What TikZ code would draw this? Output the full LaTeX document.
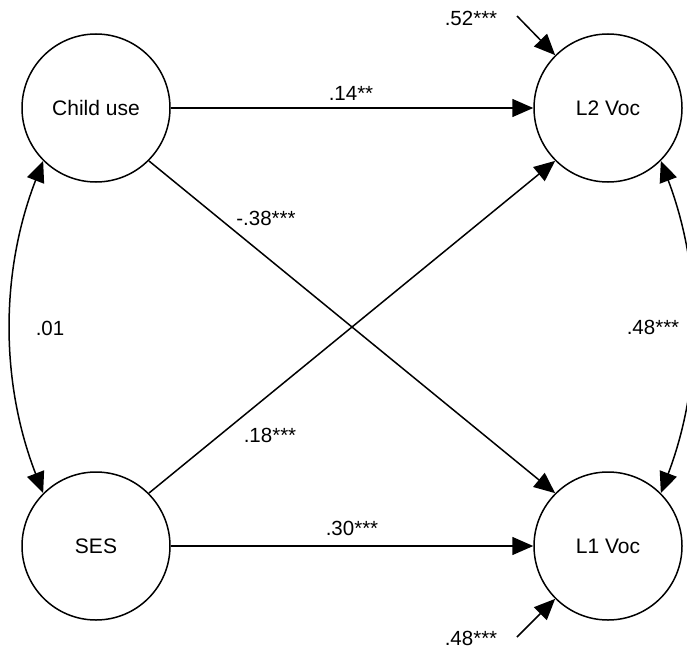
\documentclass[tikz,border=0pt]{standalone}
\usepackage{fontspec}
\setmainfont{Liberation Sans}
\usetikzlibrary{arrows.meta}
\begin{document}
\begin{tikzpicture}[x=1pt,y=-1pt,
  latent/.style={draw,circle,line width=1.5pt,minimum size=148pt,inner sep=0pt,font=\fontsize{21}{23}\selectfont},
  lbl/.style={font=\fontsize{20.5}{22}\selectfont,inner sep=0pt},
  arr/.style={line width=1.5pt,-{Triangle[length=21pt,width=18pt]}},
  dbl/.style={line width=1.5pt,{Triangle[length=21pt,width=18pt]}-{Triangle[length=21pt,width=18pt]}}]
\useasboundingbox (0,0) rectangle (687,650);
\node[latent] (cu) at (96,108) {Child use};
\node[latent] (l2) at (608,108) {L2 Voc};
\node[latent] (ses) at (96,546) {SES};
\node[latent] (l1) at (608,546) {L1 Voc};
\coordinate (e2) at (517,16);
\coordinate (e1) at (517,637);
\draw[arr] (cu) -- (l2);
\draw[arr] (ses) -- (l1);
\draw[arr] (cu.315) -- (l1.135);
\draw[arr] (ses.45) -- (l2.225);
\draw[arr] (e2) -- (l2.135);
\draw[arr] (e1) -- (l1.225);
\draw[dbl] (cu.225) .. controls +(-43,111) and +(-43,-111) .. (ses.135);
\draw[dbl] (l2.315) .. controls +(42,111) and +(42,-111) .. (l1.45);
\node[lbl] (t14) at (351,93) {.14**};
\node[lbl] (t30) at (352,528) {.30***};
\node[lbl] (t38) at (266,218) {-.38***};
\node[lbl] (t18) at (270,435) {.18***};
\node[lbl] (t01) at (50,328) {.01};
\node[lbl] (t48r) at (653,327) {.48***};
\node[lbl] (t52) at (471,18) {.52***};
\node[lbl] (t48b) at (471,638) {.48***};
\end{tikzpicture}
\end{document}
